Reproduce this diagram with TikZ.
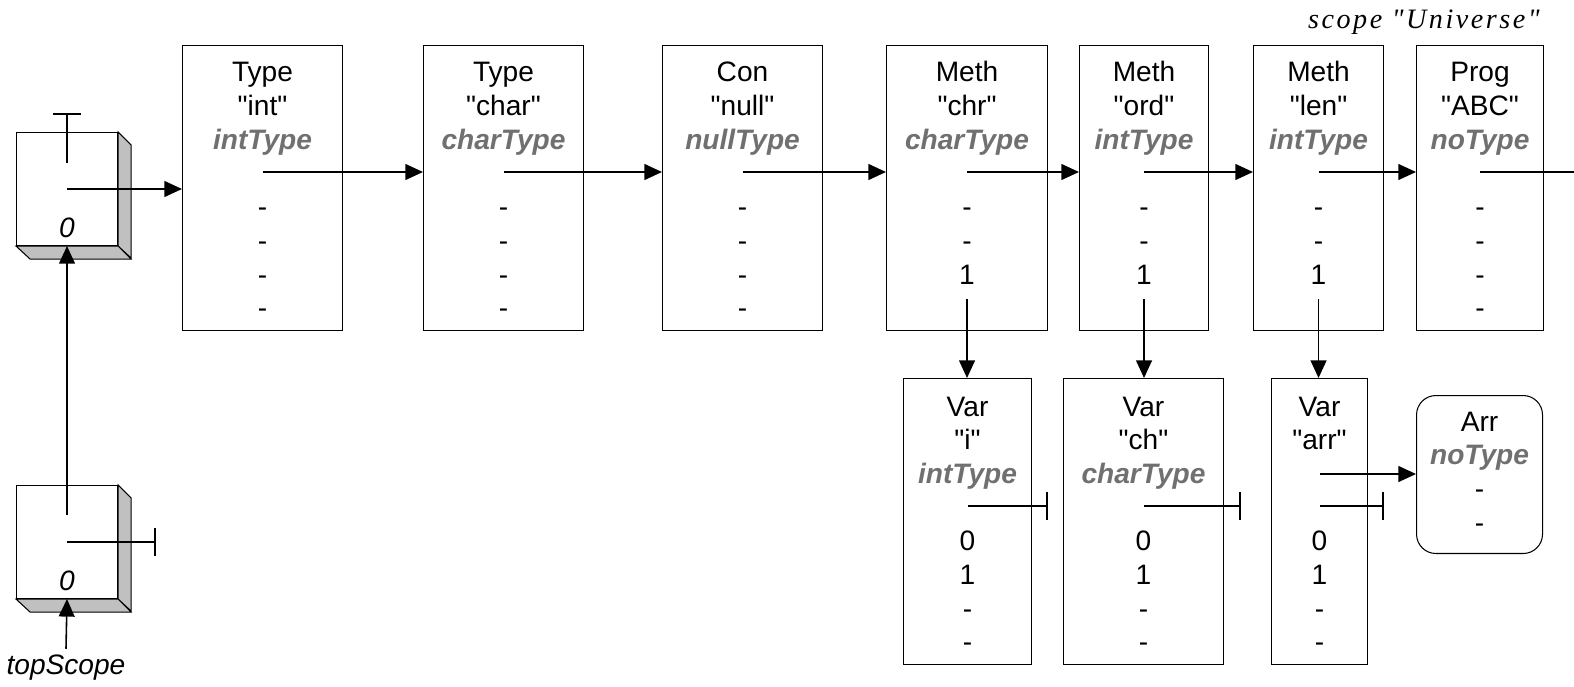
\documentclass[tikz,border=0pt]{standalone}
\usepackage{fontspec}
\setmainfont{Liberation Sans}[Ligatures=TeXOff]
\newfontfamily\serffont{Liberation Serif}[Ligatures=TeXOff, LetterSpace=9]
\usetikzlibrary{positioning,arrows.meta}

\definecolor{typgray}{RGB}{112,112,112}
\definecolor{shade}{RGB}{192,192,192}

\newcommand{\lab}{\fontsize{16}{19}\selectfont}
\newcommand{\tp}[1]{\textcolor{typgray}{\bfseries\itshape #1}}
% text rows of a box: box name, first baseline, items
\newcommand{\rows}[3]{%
  \foreach \t [count=\k from 0] in {#3}
    \path (#1.north) ++(0,{#2+33.7*\k}) node[row] (#1-\k) {\t};
}

\begin{document}
\begin{tikzpicture}[x=0.02cm, y=-0.02cm,
    box/.style={draw, line width=.6pt, anchor=north west, minimum height=5.7cm, inner sep=0},
    row/.style={anchor=base, inner sep=0, font=\lab},
    ptr/.style={line width=.9pt, -{Triangle[length=10pt, width=9pt]}},
    nil/.style={line width=.9pt, -{Bar[width=16pt]}},
    face/.style={draw, line width=.6pt, fill=shade}]
    \useasboundingbox (0,0) rectangle (1574,686);

    % scope stack
    \node[box, minimum width=2.02cm, minimum height=2.26cm] (sa) at (16,132) {};
    \node[box, minimum width=2.02cm, minimum height=2.26cm] (sb) at (16,485) {};
    \foreach \s in {sa,sb} {
        \draw[face] (\s.north east) -- ++(13,13) -- ++(0,113) -- (\s.south east) -- cycle;
        \draw[face] (\s.south west) -- (\s.south east) -- ++(13,13) -- ++(-101,0) -- cycle;
        \path (\s.north) ++(0,105) node[row, font=\lab\itshape] (\s-0) {0};
    }

    % universe list
    \node[box, minimum width=3.2cm] (int) at (182,45) {};
    \node[box, minimum width=3.2cm] (char) at (423,45) {};
    \node[box, minimum width=3.2cm] (null) at (662,45) {};
    \node[box, minimum width=3.22cm] (chr) at (886,45) {};
    \node[box, minimum width=2.58cm] (ord) at (1079,45) {};
    \node[box, minimum width=2.6cm] (len) at (1253,45) {};
    \node[box, minimum width=2.54cm] (prog) at (1416,45) {};

    \rows{int}{37}{Type,"int",\tp{intType},{},-,-,-,-}
    \rows{char}{37}{Type,"char",\tp{charType},{},-,-,-,-}
    \rows{null}{37}{Con,"null",\tp{nullType},{},-,-,-,-}
    \rows{chr}{37}{Meth,"chr",\tp{charType},{},-,-,1}
    \rows{ord}{37}{Meth,"ord",\tp{intType},{},-,-,1}
    \rows{len}{37}{Meth,"len",\tp{intType},{},-,-,1}
    \rows{prog}{37}{Prog,"ABC",\tp{noType},{},-,-,-,-}

    % locals
    \node[box, minimum width=2.56cm, minimum height=5.72cm] (vi) at (903,378) {};
    \node[box, minimum width=3.2cm, minimum height=5.72cm] (vch) at (1063,378) {};
    \node[box, minimum width=1.92cm, minimum height=5.72cm] (varr) at (1271,378) {};
    \node[box, minimum width=2.52cm, minimum height=3.16cm, rounded corners=11pt] (arr) at (1416,395) {};

    \rows{vi}{38}{Var,"i",\tp{intType},{},0,1,-,-}
    \rows{vch}{38}{Var,"ch",\tp{charType},{},0,1,-,-}
    \rows{varr}{38}{Var,"arr",{},{},0,1,-,-}
    \rows{arr}{36}{Arr,\tp{noType},-,-}

    \node[row, font=\lab\itshape] (top) at (66,674) {topScope};
    \node[anchor=base east, inner sep=0, font=\serffont\itshape\fontsize{16}{19}\selectfont] (uni) at (1540,29) {scope "Universe"};

    % pointers
    \foreach \b in {int,char,null,chr,ord,len,prog}
        \path (\b.north) ++(0,127) coordinate (\b-p);
    \coordinate (rim) at (1574,0);
    \draw[ptr] (int-p) -- (int-p -| char.west);
    \draw[ptr] (char-p) -- (char-p -| null.west);
    \draw[ptr] (null-p) -- (null-p -| chr.west);
    \draw[ptr] (chr-p) -- (chr-p -| ord.west);
    \draw[ptr] (ord-p) -- (ord-p -| len.west);
    \draw[ptr] (len-p) -- (len-p -| prog.west);
    \draw[line width=.9pt] (prog-p) -- (prog-p -| rim);

    \foreach \m/\v in {chr/vi, ord/vch, len/varr} {
        \path ([yshift=-8.5pt]\m-6.base) coordinate (\m-d);
        \draw[ptr] (\m-d) -- (\m-d |- \v.north);
    }

    \path (vi.north) ++(0,128) coordinate (vi-p) ++(80,0) coordinate (vi-e);
    \path (vch.north) ++(0,128) coordinate (vch-p) ++(97,0) coordinate (vch-e);
    \path (varr.north) ++(0,96) coordinate (varr-a) ++(0,32) coordinate (varr-p) ++(64,0) coordinate (varr-e);
    \draw[nil] (vi-p) -- (vi-e);
    \draw[nil] (vch-p) -- (vch-e);
    \draw[nil] (varr-p) -- (varr-e);
    \draw[ptr] (varr-a) -- (varr-a -| arr.west);

    \path (sa.north) ++(0,31) coordinate (sa-t) ++(0,-50) coordinate (sa-u);
    \path (sa.north) ++(0,57) coordinate (sa-p);
    \path (sb.north) ++(0,30) coordinate (sb-t);
    \path (sb.north) ++(0,57) coordinate (sb-p) ++(89,0) coordinate (sb-e);
    \draw[nil] (sa-t) -- (sa-u);
    \draw[ptr] (sa-p) -- (sa-p -| int.west);
    \draw[ptr] (sb-t) -- (sa.south);
    \draw[nil] (sb-p) -- (sb-e);
    \draw[ptr] ([yshift=3pt]top.north) -- (sb.south);
\end{tikzpicture}
\end{document}
